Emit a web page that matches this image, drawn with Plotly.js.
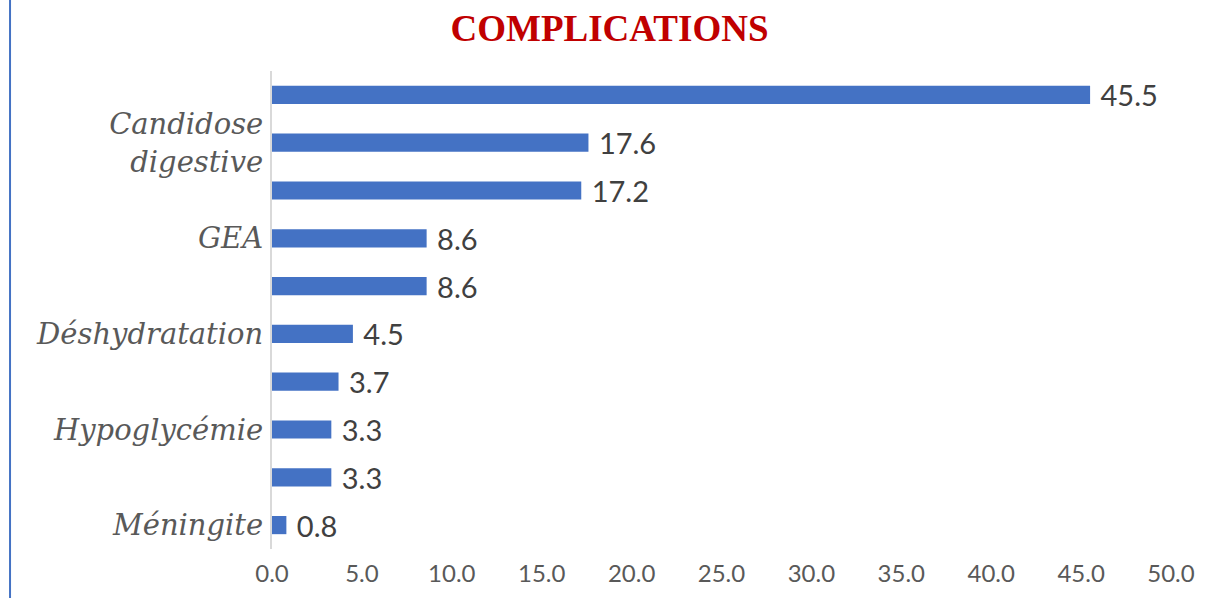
<!DOCTYPE html>
<html>
<head>
<meta charset="utf-8">
<script src="https://cdn.plot.ly/plotly-3.0.1.min.js"></script>
<style>html,body{margin:0;padding:0;background:#fff;}#chart{width:1219px;height:598px;}</style>
</head>
<body>
<div id="chart"></div>
<script>
// Data (top to bottom); only every other category label is shown in the source
const labels = ["", "Candidose<br>digestive", "", "GEA", "", "Déshydratation", "", "Hypoglycémie", "", "Méningite"];
const values = [45.5, 17.6, 17.2, 8.6, 8.6, 4.5, 3.7, 3.3, 3.3, 0.8];
const positions = labels.map((_, i) => i);
const xTicks = [0, 5, 10, 15, 20, 25, 30, 35, 40, 45, 50];
const xTickText = xTicks.map(v => v.toFixed(1));

const trace = {
  type: 'bar',
  orientation: 'h',
  x: values,
  y: positions,
  width: 0.38,
  marker: {color: '#4472C4'},
  texttemplate: '\u00a0%{x:.1f}',
  textposition: 'outside',
  constraintext: 'none',
  cliponaxis: false,
  textfont: {family: 'Lato, sans-serif', size: 29, color: '#404040'},
  hoverinfo: 'none'
};

const layout = {
  width: 1219, height: 598,
  margin: {l: 272, r: 48, t: 71, b: 49},
  paper_bgcolor: '#ffffff', plot_bgcolor: '#ffffff',
  showlegend: false,
  title: {
    text: 'COMPLICATIONS',
    font: {family: '"Liberation Serif", serif', size: 37, color: '#C00000', weight: 'bold'},
    x: 0.5, xanchor: 'center', y: 0.953, yanchor: 'middle'
  },
  xaxis: {
    range: [0, 50], tickvals: xTicks, ticktext: xTickText,
    showgrid: false, zeroline: false, showline: false,
    ticks: '', ticklabelstandoff: 8,
    tickfont: {family: 'Lato, sans-serif', size: 24, color: '#595959'}
  },
  yaxis: {
    type: 'linear', range: [9.5, -0.5],
    tickvals: positions, ticktext: labels,
    showgrid: false, zeroline: false,
    showline: true, linecolor: '#D9D9D9', linewidth: 2,
    ticks: '', ticklabelstandoff: 1,
    tickfont: {family: '"DejaVu Serif", serif', size: 29, color: '#595959', style: 'italic'}
  },
  shapes: [{
    type: 'line', xref: 'paper', yref: 'paper',
    x0: -0.2914, x1: -0.2914, y0: -0.11, y1: 1.16,
    line: {color: '#4472C4', width: 2}
  }]
};

Plotly.newPlot('chart', [trace], layout, {displayModeBar: false, staticPlot: true});
</script>
</body>
</html>
